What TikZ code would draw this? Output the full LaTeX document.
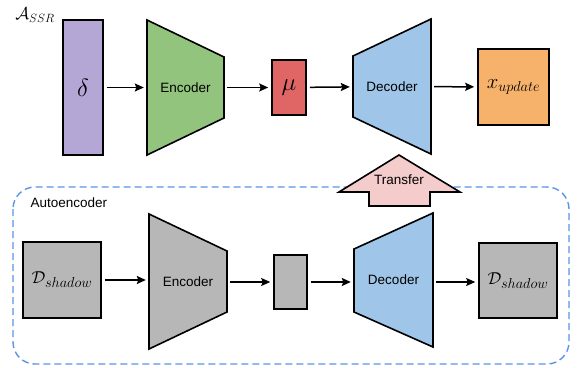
\documentclass[tikz,border=0pt]{standalone}
\usepackage{fontspec}
\setsansfont{Liberation Sans}
\usetikzlibrary{arrows.meta}
\definecolor{cpurple}{HTML}{B4A7D6}
\definecolor{cgreen}{HTML}{93C47D}
\definecolor{cred}{HTML}{E06666}
\definecolor{cblue}{HTML}{9FC5E8}
\definecolor{corange}{HTML}{F6B26B}
\definecolor{cgray}{HTML}{B7B7B7}
\definecolor{cpink}{HTML}{F4CCCC}
\definecolor{cdash}{HTML}{5B93E8}
\tikzset{
  box/.style={draw=black, line width=1.6pt, inner sep=0pt},
  hold/.style={inner sep=0pt},
  poly/.style={draw=black, line width=1.6pt, line join=miter},
  conn/.style={line width=1.5pt, -{Stealth[length=9pt,width=8pt,inset=1.5pt]}, shorten <=3pt, shorten >=3pt},
  lbl/.style={font=\sffamily\fontsize{13.5}{15}\selectfont},
  mth/.style={font=\fontsize{17}{20}\selectfont},
}
\begin{document}
\begin{tikzpicture}[x=1pt,y=-1pt]
\useasboundingbox (0,0) rectangle (577,367);
% dashed container
\draw[cdash, line width=1.4pt, dash pattern=on 7pt off 4pt, rounded corners=22pt] (13,187) rectangle (569,364);
\node[lbl, anchor=west] (ae) at (27,203) {Autoencoder};
\node[mth] (assr) at (35,15) {$\mathcal{A}_{SSR}$};

% top row
\node[box, fill=cpurple, minimum width=40pt, minimum height=135pt] (delta) at (83,87.5) {\fontsize{34}{36}\selectfont$\delta$};
\node[hold, minimum width=77pt, minimum height=135pt] (enc) at (185.5,87.5) {};
\draw[poly, fill=cgreen] (147,20) -- (224,57) -- (224,118) -- (147,155) -- cycle;
\node[lbl] at (enc.center) {Encoder};
\node[box, fill=cred, minimum width=34pt, minimum height=55pt] (mu) at (289,87.5) {\fontsize{34}{36}\selectfont$\mu$};
\node[hold, minimum width=78pt, minimum height=135pt] (dec) at (392,86.5) {};
\draw[poly, fill=cblue] (353,56) -- (431,19) -- (431,154) -- (353,117) -- cycle;
\node[lbl] at (dec.center) {Decoder};
\node[box, fill=corange, minimum width=71pt, minimum height=76pt] (xu) at (513.5,87) {\fontsize{20}{22}\selectfont$x_{update}$};

\draw[conn] (delta) -- (enc);
\draw[conn] (enc) -- (mu);
\draw[conn] (mu) -- (dec);
\draw[conn] (dec) -- (xu);

% transfer arrow
\draw[poly, fill=cpink] (399,155) -- (460,192) -- (430,192) -- (430,206) -- (369,206) -- (369,192) -- (339,192) -- cycle;
\node[lbl] (tr) at (399,180) {Transfer};

% bottom row
\node[box, fill=cgray, minimum width=78pt, minimum height=76pt] (ds1) at (62,280) {\fontsize{19}{21}\selectfont$\mathcal{D}_{shadow}$};
\node[hold, minimum width=78pt, minimum height=135pt] (enc2) at (188,281.5) {};
\draw[poly, fill=cgray] (149,214) -- (227,251) -- (227,312) -- (149,349) -- cycle;
\node[lbl] at (enc2.center) {Encoder};
\node[box, fill=cgray, minimum width=33pt, minimum height=54pt] (z) at (290.5,282) {};
\node[hold, minimum width=79pt, minimum height=134pt] (dec2) at (393.5,280) {};
\draw[poly, fill=cblue] (354,249) -- (433,213) -- (433,347) -- (354,312) -- cycle;
\node[lbl] at (dec2.center) {Decoder};
\node[box, fill=cgray, minimum width=78pt, minimum height=75pt] (ds2) at (518,280.5) {\fontsize{19}{21}\selectfont$\mathcal{D}_{shadow}$};

\draw[conn] (ds1) -- (ds1 -| enc2.west);
\draw[conn] (enc2.east |- z) -- (z);
\draw[conn] (z) -- (z -| dec2.west);
\draw[conn] (z -| dec2.east) -- (z -| ds2.west);
\end{tikzpicture}
\end{document}
